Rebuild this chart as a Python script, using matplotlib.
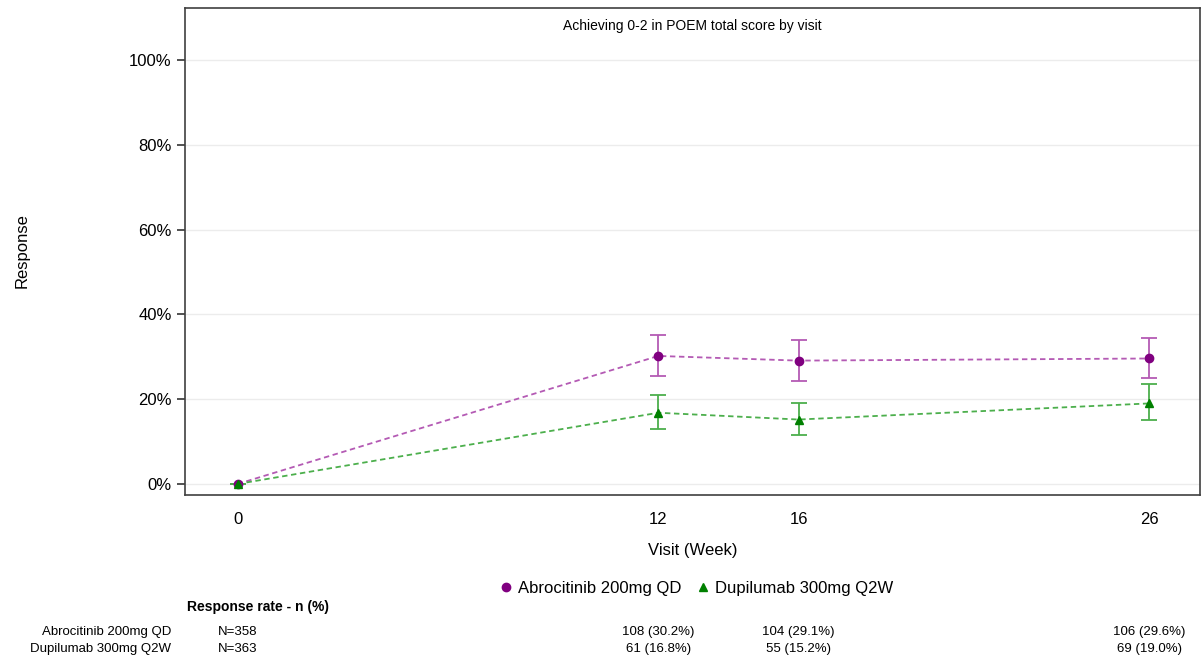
import matplotlib
matplotlib.use("Agg")
import matplotlib.pyplot as plt
import matplotlib.ticker as mticker
import matplotlib.transforms as mtransforms
import numpy as np

plt.rcParams["font.family"] = ["Liberation Sans", "DejaVu Sans"]

# ---------------------------------------------------------------------------
# Data
# ---------------------------------------------------------------------------
weeks = [0, 12, 16, 26]

abro_label = "Abrocitinib 200mg QD"
abro_n = 358
abro_resp = [0.0, 30.2, 29.1, 29.6]
abro_lo = [0.0, 25.4, 24.4, 24.9]
abro_hi = [0.0, 35.2, 34.0, 34.4]
abro_counts = ["", "108 (30.2%)", "104 (29.1%)", "106 (29.6%)"]

dupi_label = "Dupilumab 300mg Q2W"
dupi_n = 363
dupi_resp = [0.0, 16.8, 15.2, 19.0]
dupi_lo = [0.0, 13.0, 11.6, 15.1]
dupi_hi = [0.0, 21.0, 19.1, 23.5]
dupi_counts = ["", "61 (16.8%)", "55 (15.2%)", "69 (19.0%)"]

y_ticks = [0, 20, 40, 60, 80, 100]

COLORS = {"abro": "#800080", "dupi": "#008000"}
BAR_COLORS = {"abro": "#b45ab4", "dupi": "#4caf4c"}

# ---------------------------------------------------------------------------
# Figure
# ---------------------------------------------------------------------------
fig = plt.figure(figsize=(12.03, 6.59), dpi=100)
ax = fig.add_axes([0.1538, 0.2489, 0.8437, 0.739])

for key, resp, lo, hi, marker, ms in [
    ("abro", abro_resp, abro_lo, abro_hi, "o", 6),
    ("dupi", dupi_resp, dupi_lo, dupi_hi, "^", 6),
]:
    resp = np.array(resp)
    errs = np.array([resp - np.array(lo), np.array(hi) - resp])
    ax.errorbar(weeks, resp, yerr=errs, fmt="none", ecolor=BAR_COLORS[key],
                capsize=5.5, elinewidth=1.3, capthick=1.3, zorder=3)
    ax.plot(weeks, resp, linestyle=(0, (3, 2)), color=BAR_COLORS[key],
            linewidth=1.3, zorder=4)
    ax.plot(weeks, resp, linestyle="none", marker=marker, markersize=ms,
            color=COLORS[key], zorder=5)

ax.set_xlim(-1.5, 27.45)
ax.set_ylim(-2.6, 112.3)
ax.set_xticks(weeks)
ax.set_yticks(y_ticks)
ax.yaxis.set_major_formatter(mticker.PercentFormatter(decimals=0))
ax.tick_params(axis="both", labelsize=12, length=6, width=1.2, color="#333333")
ax.tick_params(axis="x", length=0, pad=12)
ax.grid(axis="y", color="#ececec", linewidth=1.0, zorder=0)
for s in ax.spines.values():
    s.set_color("#404040")
    s.set_linewidth(1.2)

ax.set_title("Achieving 0-2 in POEM total score by visit", fontsize=10,
             y=0.955, pad=0)
ax.set_xlabel("Visit (Week)", fontsize=12, labelpad=12)
fig.text(0.018, 0.62, "Response", rotation=90, fontsize=12,
         ha="center", va="center")

# legend
h1 = plt.Line2D([], [], linestyle="none", marker="o", markersize=6,
                color=COLORS["abro"])
h2 = plt.Line2D([], [], linestyle="none", marker="^", markersize=6,
                color=COLORS["dupi"])
fig.legend([h1, h2], [abro_label, dupi_label], loc="center",
           bbox_to_anchor=(0.578, 0.107), ncol=2, frameon=False,
           fontsize=12, handletextpad=0.2, columnspacing=0.8,
           handlelength=1.0)

# response table under the plot
trans = mtransforms.blended_transform_factory(ax.transData, fig.transFigure)
fig.text(187 / 1203, 1 - 607 / 659, "Response rate - n (%)", fontsize=10,
         fontweight="bold", ha="left", va="center")
for row_y, label, n, counts in [
    (1 - 632 / 659, abro_label, abro_n, abro_counts),
    (1 - 649 / 659, dupi_label, dupi_n, dupi_counts),
]:
    fig.text(171 / 1203, row_y, label, fontsize=9.5, ha="right", va="center")
    fig.text(218 / 1203, row_y, f"N={n}", fontsize=9.5, ha="left", va="center")
    for wk, txt in zip(weeks, counts):
        if txt:
            ax.text(wk, row_y, txt, transform=trans, fontsize=9.5,
                    ha="center", va="center")

fig.savefig("out.png", dpi=100)
plt.close(fig)
